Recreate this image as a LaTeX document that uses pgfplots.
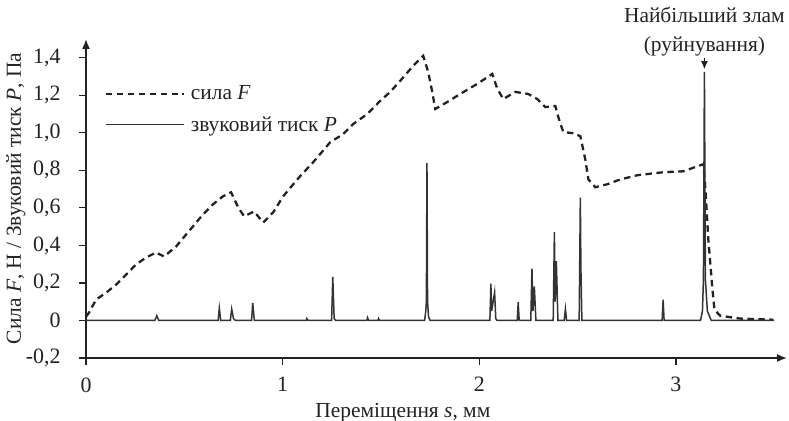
\documentclass[border=0pt]{standalone}
\usepackage{pgfplots}
\pgfplotsset{compat=1.18}
\usepackage{fontspec}
\setmainfont{Liberation Serif}
\usetikzlibrary{arrows.meta}
\definecolor{ink}{HTML}{222222}
\definecolor{trace}{HTML}{333333}
\newcommand{\bigfont}{\fontsize{21.5}{26}\selectfont}

\begin{document}
\begin{tikzpicture}[font=\bigfont, text=ink]
\path[use as bounding box] (0,0) rectangle (789bp,421bp);
\begin{axis}[
  at={(86bp,63bp)}, anchor=south west,
  scale only axis, width=701bp, height=319bp,
  xmin=0, xmax=3.565, ymin=-0.2, ymax=1.5,
  axis lines=left,
  axis line style={ink, line width=1.6pt, -{Latex[length=10pt,width=8pt]}},
  tick align=outside, major tick length=7pt,
  tick style={ink, line width=1.2pt},
  every tick label/.append style={font=\fontsize{22}{26}\selectfont},
  xtick={0,1,2,3}, xticklabels={0,1,2,3},
  ytick={-0.2,0,0.2,0.4,0.6,0.8,1.0,1.2,1.4},
  yticklabels={{-0,2},{0},{0,2},{0,4},{0,6},{0,8},{1,0},{1,2},{1,4}},
  yticklabel style={xshift=-15pt},
  xticklabel style={yshift=-9pt},
  xlabel={Переміщення \textit{s}, мм},
  ylabel={Сила \textit{F}, Н / Звуковий тиск \textit{P}, Па},
  label style={font=\bigfont},
  x label style={at={(axis description cs:0.452,-0.17)}, anchor=center},
  y label style={at={(axis description cs:-0.1,0.5)}, anchor=center},
  clip=false,
  legend style={at={(axis description cs:0.022,0.866)}, anchor=north west,
    draw=none, fill=none, row sep=11pt, font=\bigfont},
  legend cell align=left,
  legend image code/.code={\draw[#1] (0bp,0bp) -- (78bp,0bp); \path (82bp,0bp);},
]
% force, dashed
\addplot[ink, line width=2.3pt, dash pattern=on 6.5pt off 4.5pt] coordinates {
(0,0.02) (0.015,0.041) (0.051,0.111) (0.102,0.148) (0.153,0.191) (0.204,0.244)
(0.254,0.298) (0.305,0.335) (0.356,0.362) (0.397,0.341) (0.458,0.394) (0.509,0.458)
(0.595,0.565) (0.646,0.619) (0.697,0.662) (0.738,0.683) (0.774,0.603) (0.804,0.555)
(0.855,0.581) (0.901,0.522) (0.952,0.576) (1.003,0.662) (1.089,0.769) (1.155,0.843)
(1.242,0.950) (1.308,0.993) (1.359,1.047) (1.430,1.100) (1.496,1.170) (1.547,1.218)
(1.598,1.277) (1.664,1.357) (1.715,1.410) (1.740,1.325) (1.761,1.218) (1.776,1.127)
(1.837,1.164) (1.903,1.207) (1.990,1.261) (2.066,1.314) (2.092,1.234) (2.122,1.180)
(2.183,1.218) (2.249,1.207) (2.295,1.180) (2.336,1.137) (2.387,1.143) (2.402,1.084)
(2.427,1.004) (2.478,0.998) (2.514,0.982) (2.539,0.859) (2.555,0.752) (2.590,0.710)
(2.651,0.726) (2.718,0.752) (2.804,0.774) (2.936,0.790) (3.038,0.795) (3.140,0.833)
(3.150,0.699) (3.165,0.431) (3.186,0.164) (3.196,0.057) (3.226,0.025) (3.328,0.010)
(3.496,0.004)
};
\addlegendentry{сила \textit{F}}
% sound pressure, solid
\addplot[trace, line width=1.5pt] coordinates {
(0,0) (0.350,0) (0.360,0.025) (0.370,0) (0.672,0) (0.678,0.066) (0.685,0)
(0.734,0) (0.741,0.061) (0.750,0.010) (0.760,0) (0.842,0) (0.848,0.093) (0.856,0)
(1.120,0) (1.123,0.010) (1.130,0) (1.249,0) (1.255,0.232) (1.262,0.010) (1.270,0)
(1.428,0) (1.432,0.015) (1.437,0) (1.484,0) (1.488,0.010) (1.492,0)
(1.722,0) (1.728,0.050) (1.731,0.100) (1.734,0.838) (1.737,0.100) (1.742,0.020) (1.750,0)
(2.054,0) (2.059,0.196) (2.063,0.050) (2.078,0.150) (2.084,0.010) (2.090,0)
(2.193,0) (2.198,0.098) (2.203,0)
(2.262,0) (2.268,0.276) (2.273,0.050) (2.280,0.182) (2.288,0)
(2.376,0) (2.382,0.471) (2.386,0.100) (2.392,0.316) (2.400,0)
(2.432,0) (2.438,0.061) (2.444,0)
(2.508,0) (2.514,0.654) (2.517,0.270) (2.522,0)
(2.930,0) (2.935,0.111) (2.940,0)
(3.125,0) (3.135,0.050) (3.140,0.218) (3.145,1.325) (3.150,0.218) (3.160,0.050) (3.180,0)
(3.500,0)
};
\addlegendentry{звуковий тиск \textit{P}}
% annotation of the main fracture
\draw[ink, line width=0.8pt, -{Latex[length=8pt,width=7pt]}]
  (axis cs:3.145,1.40) -- (axis cs:3.145,1.34);
\node[anchor=south, align=center, inner sep=1pt, font=\fontsize{21.5}{30}\selectfont]
  at (axis cs:3.145,1.40) {Найбільший злам\\(руйнування)};
\end{axis}
\end{tikzpicture}
\end{document}
